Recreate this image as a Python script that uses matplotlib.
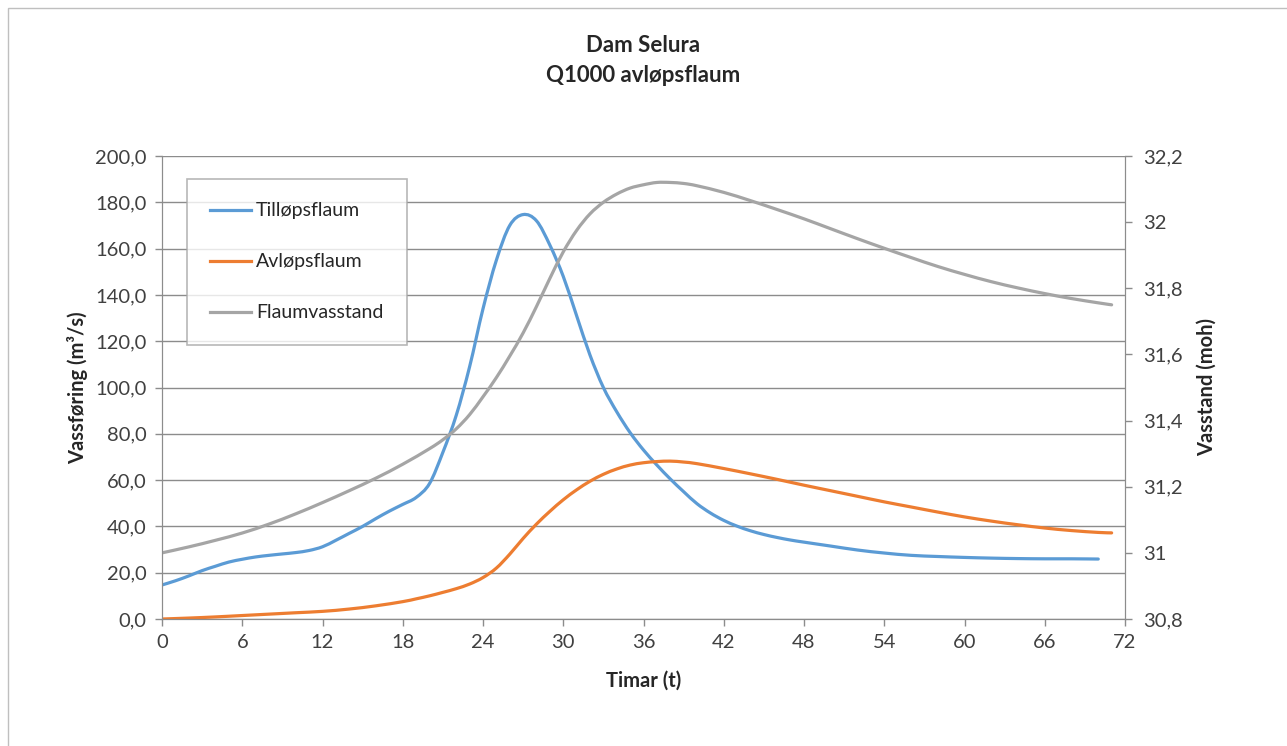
import matplotlib

matplotlib.use("Agg")

import matplotlib.pyplot as plt
import numpy as np
from matplotlib.lines import Line2D
from matplotlib.patches import PathPatch, Rectangle
from matplotlib.path import Path
from matplotlib.ticker import FuncFormatter, MultipleLocator

plt.rcParams["font.family"] = ["Lato", "DejaVu Sans"]

# Tilløpsflaum (m3/s)
t_inn = [0, 1, 2, 3, 4, 5, 6, 7, 8, 9, 10, 11, 12, 13, 14, 15, 16, 17, 18, 19,
         20, 21, 22, 23, 24, 25, 26, 27, 28, 29, 30, 31, 32, 33, 34, 35, 36, 37,
         38, 39, 40, 41, 42, 43, 44, 45, 46, 47, 48, 50, 52, 54, 56, 58, 60, 62,
         64, 66, 68, 70]
q_inn = [14.7, 16.5, 18.6, 20.9, 22.8, 24.6, 25.8, 26.8, 27.5, 28.1, 28.7, 29.6,
         31.2, 34.0, 37.0, 40.0, 43.4, 46.6, 49.5, 52.5, 58.5, 72.0, 88.0, 109.0,
         134.0, 155.0, 170.0, 174.7, 172.0, 161.5, 148.0, 131.0, 114.0, 100.0,
         89.5, 80.5, 73.0, 66.5, 60.5, 55.0, 49.8, 45.8, 42.6, 40.1, 38.1, 36.5,
         35.2, 34.1, 33.2, 31.5, 29.8, 28.5, 27.5, 27.0, 26.6, 26.3, 26.1, 26.0,
         26.0, 25.9]

# Avløpsflaum (m3/s)
t_ut = [0, 2, 4, 6, 8, 10, 12, 14, 16, 18, 19, 20, 21, 22, 23, 24, 25, 26, 27,
        28, 29, 30, 31, 32, 33, 34, 35, 36, 37, 38, 39, 40, 42, 44, 46, 48, 50,
        52, 54, 56, 58, 60, 62, 64, 66, 68, 70, 71]
q_ut = [0.0, 0.4, 0.9, 1.5, 2.1, 2.7, 3.3, 4.3, 5.7, 7.5, 8.7, 10.0, 11.5, 13.1,
        15.1, 17.9, 22.0, 28.0, 34.8, 41.0, 46.5, 51.5, 55.8, 59.5, 62.5, 64.8,
        66.5, 67.5, 68.0, 68.2, 67.8, 67.1, 65.0, 62.7, 60.3, 57.8, 55.4, 53.0,
        50.6, 48.4, 46.2, 44.1, 42.3, 40.7, 39.3, 38.2, 37.4, 37.2]

# Flaumvasstand (moh)
t_vst = [0, 2, 4, 6, 8, 10, 12, 14, 16, 18, 20, 21, 22, 23, 24, 25, 26, 27, 28,
         29, 30, 31, 32, 33, 34, 35, 36, 37, 38, 39, 40, 42, 44, 46, 48, 50, 52,
         54, 56, 58, 60, 62, 64, 66, 68, 70, 71]
h_vst = [31.00, 31.018, 31.038, 31.06, 31.087, 31.118, 31.152, 31.188, 31.226,
         31.268, 31.315, 31.342, 31.375, 31.418, 31.472, 31.53, 31.595, 31.665,
         31.745, 31.83, 31.91, 31.975, 32.025, 32.06, 32.085, 32.103, 32.113,
         32.12, 32.12, 32.117, 32.11, 32.09, 32.065, 32.038, 32.01, 31.98, 31.95,
         31.921, 31.893, 31.866, 31.842, 31.82, 31.801, 31.784, 31.769, 31.756,
         31.75]

TXT = "#404040"
LBL = "#262626"
AX = "#8c8c8c"


def smooth_line(ax, x, y, color):
    # Excel-style smoothed line: Catmull-Rom segments as cubic Bezier curves
    p = np.column_stack([x, y]).astype(float)
    ext = np.vstack([p[0], p, p[-1]])
    verts = [p[0]]
    codes = [Path.MOVETO]
    for i in range(len(p) - 1):
        p0, p1, p2, p3 = ext[i], ext[i + 1], ext[i + 2], ext[i + 3]
        verts += [p1 + (p2 - p0) / 6, p2 - (p3 - p1) / 6, p2]
        codes += [Path.CURVE4] * 3
    ax.add_patch(PathPatch(Path(verts, codes), fill=False, edgecolor=color,
                           lw=2.3, capstyle="round", joinstyle="round"))


def komma(fmt):
    return FuncFormatter(lambda v, _: format(v, fmt).replace(".", ","))


fig = plt.figure(figsize=(12.87, 7.46), dpi=100)
fig.patches.append(Rectangle((8 / 1287, -0.1), 1.2, 1.1 - 8 / 746,
                             transform=fig.transFigure, fill=False,
                             edgecolor="#bfbfbf", linewidth=1))
ax = fig.add_axes([162 / 1287, 127 / 746, 963 / 1287, 463 / 746])
ax2 = ax.twinx()

series = [
    (ax, t_inn, q_inn, "#5B9BD5", "Tilløpsflaum"),
    (ax, t_ut, q_ut, "#ED7D31", "Avløpsflaum"),
    (ax2, t_vst, h_vst, "#A5A5A5", "Flaumvasstand"),
]
handles = []
for a, x, y, c, name in series:
    smooth_line(a, x, y, c)
    handles.append(Line2D([], [], color=c, lw=2.3, label=name))

ax.set_xlim(0, 72)
ax.set_ylim(0, 200)
ax2.set_ylim(30.8, 32.2)
ax.xaxis.set_major_locator(MultipleLocator(6))
ax.yaxis.set_major_locator(MultipleLocator(20))
ax2.yaxis.set_major_locator(MultipleLocator(0.2))
ax.yaxis.set_major_formatter(komma(".1f"))
ax2.yaxis.set_major_formatter(FuncFormatter(
    lambda v, _: f"{round(v, 1):g}".replace(".", ",")))

ax.grid(axis="y", color=AX, lw=1)
ax.set_axisbelow(True)
for a in (ax, ax2):
    a.spines["top"].set_visible(False)
    for s in ("left", "right", "bottom"):
        a.spines[s].set_color(AX)
    a.tick_params(colors=AX, labelcolor=TXT, labelsize=14.5, length=5, width=1)
ax.tick_params(axis="x", pad=6)
ax.tick_params(axis="y", pad=6)
ax2.tick_params(axis="y", pad=8)

ax.set_xlabel("Timar (t)", fontsize=14.5, fontweight="bold", color=LBL,
              labelpad=14)
ax.set_ylabel("Vassføring (m³/s)", fontsize=14.5, fontweight="bold",
              color=LBL, labelpad=5)
ax2.set_ylabel("Vasstand (moh)", fontsize=14.5, fontweight="bold",
               color=LBL, labelpad=10)

fig.text(0.5, 1 - 45 / 746, "Dam Selura", ha="center", va="center",
         fontsize=16, fontweight="bold", color=LBL)
fig.text(0.5, 1 - 75 / 746, "Q1000 avløpsflaum", ha="center", va="center",
         fontsize=16, fontweight="bold", color=LBL)

leg = ax2.legend(handles=handles, loc="upper left",
                 bbox_to_anchor=(25 / 963, 1 - 23 / 463), fontsize=14,
                 frameon=True, fancybox=False, borderpad=1.2,
                 labelspacing=1.75, handlelength=2.1, handletextpad=0.25,
                 borderaxespad=0)
leg.get_frame().set_edgecolor("#a6a6a6")
leg.get_frame().set_linewidth(1.2)
for txt in leg.get_texts():
    txt.set_color(LBL)

fig.savefig("out.png", dpi=100)
